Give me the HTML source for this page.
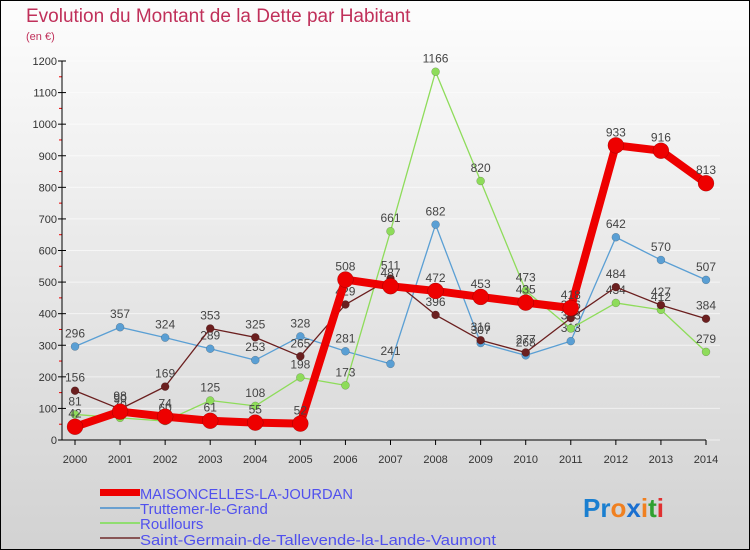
<!DOCTYPE html>
<html><head><meta charset="utf-8"><style>
body{margin:0;width:750px;height:550px;overflow:hidden}
svg{display:block;font-family:"Liberation Sans",sans-serif}
</style></head><body>
<svg id="c" width="750" height="550">
<defs><linearGradient id="bg" x1="0" y1="0" x2="0" y2="1"><stop offset="0" stop-color="#fdfdfd"/><stop offset="1" stop-color="#d2d2d2"/></linearGradient></defs>
<rect x="0.5" y="0.5" width="749" height="549" fill="url(#bg)" stroke="#000"/>
<text x="26" y="22" font-size="19" fill="#c0305a">Evolution du Montant de la Dette par Habitant</text>
<text x="26" y="40" font-size="11" fill="#c0305a">(en €)</text>
<g id="grid"></g><g id="axes"></g><g id="series"></g>
<g font-size="15" fill="#5050ee">
<rect x="100" y="489" width="40" height="7" fill="#e00"/>
<text x="140" y="499" textLength="213" lengthAdjust="spacingAndGlyphs">MAISONCELLES-LA-JOURDAN</text>
<rect x="100" y="507" width="40" height="2" fill="#6aa0d0"/>
<text x="140" y="514">Truttemer-le-Grand</text>
<rect x="100" y="522" width="40" height="2" fill="#90dd70"/>
<text x="140" y="529">Roullours</text>
<rect x="100" y="537" width="40" height="2" fill="#885555"/>
<text x="140" y="545" textLength="356" lengthAdjust="spacingAndGlyphs">Saint-Germain-de-Tallevende-la-Lande-Vaumont</text>
</g>
<g font-size="26" font-weight="bold">
<text x="583" y="517"><tspan fill="#1a7fd0">Pr</tspan><tspan fill="#f08020">o</tspan><tspan fill="#1a6fd0">x</tspan><tspan fill="#f08020">i</tspan><tspan fill="#30a030">t</tspan><tspan fill="#e03030">i</tspan></text>
</g>
</svg>
<script>
const years=[2000,2001,2002,2003,2004,2005,2006,2007,2008,2009,2010,2011,2012,2013,2014];
const yTicks=[0,100,200,300,400,500,600,700,800,900,1000,1100,1200];
const maisoncelles=[42,90,74,61,55,52,508,487,472,453,435,418,933,916,813];
const truttemer=[296,357,324,289,253,328,281,241,682,307,268,313,642,570,507];
const roullours=[81,70,60,125,108,198,173,661,1166,820,473,353,434,412,279];
const stgermain=[156,98,169,353,325,265,429,511,396,316,277,386,484,427,384];
const NS="http://www.w3.org/2000/svg";
const X=i=>75+i*(706-75)/14, Y=v=>440-v*(440-61)/1200;
function mk(t,a,p){const e=document.createElementNS(NS,t);for(const k in a)e.setAttribute(k,a[k]);document.getElementById(p).appendChild(e);return e;}
yTicks.forEach(v=>{
 const g=mk('line',{x1:62,x2:720,y1:Y(v),y2:Y(v),stroke:'#fff','stroke-width':1,opacity:0.6},'grid');
 
 
 const t=mk('text',{x:57,y:Y(v)+4,'text-anchor':'end','font-size':11,fill:'#333'},'axes');t.textContent=v;
 
 
 mk('line',{x1:58,x2:66,y1:Y(v),y2:Y(v),stroke:'#000'},'axes');
 if(v<1200)mk('line',{x1:59,x2:62,y1:Y(v+50),y2:Y(v+50),stroke:'#e00'},'axes');
});
mk('line',{x1:62,x2:62,y1:61,y2:440,stroke:'#000'},'axes');
mk('line',{x1:62,x2:706,y1:440,y2:440,stroke:'#000'},'axes');
years.forEach((y,i)=>{
 mk('line',{x1:X(i),x2:X(i),y1:440,y2:445,stroke:'#000'},'axes');
 const t=mk('text',{x:X(i),y:463,'text-anchor':'middle','font-size':11,fill:'#333'},'axes');t.textContent=y;
 
 
});
function series(name,data,color,w,r){
 const g=mk('g',{},'series');
 
 
 g.id=name;
 mk('polyline',{points:data.map((v,i)=>X(i)+','+Y(v)).join(' '),fill:'none',stroke:color,'stroke-width':w,'stroke-linejoin':'round'},name);
 data.forEach((v,i)=>{
  const c=mk('circle',{cx:X(i),cy:Y(v),r:r,fill:color,stroke:'rgba(0,0,0,0.3)','stroke-width':0.5},name);
  
  
  const t=mk('text',{x:X(i),y:Y(v)-9,'text-anchor':'middle','font-size':12,fill:'#444'},name);t.textContent=v;
  
  
 });
}
series('series-truttemer',truttemer,'#5a9fd4',1.3,4);
series('series-roullours',roullours,'#8edc5a',1.3,4);
series('series-saint-germain',stgermain,'#6b1f1f',1.3,4);
series('series-maisoncelles',maisoncelles,'#ee0000',8,8);
</script>
</body></html>
